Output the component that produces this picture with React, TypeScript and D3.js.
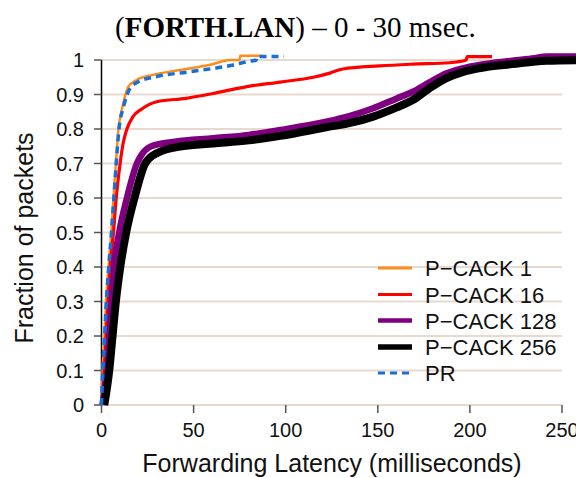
import React from "react";
import * as d3 from "d3";

type Pt = [number, number];

const seriesNames = ["P−CACK 1", "P−CACK 16", "P−CACK 128", "P−CACK 256", "PR"];
const seriesColors = ["#ff8c1a", "#ff0000", "#7f007f", "#000000", "#1a6fd6"];

const pcack1: Pt[] = [
  [0, 0], [0.6, 0.1], [1.6, 0.2], [2.5, 0.3], [3.8, 0.4], [5.3, 0.5], [6.5, 0.6], [7.8, 0.7],
  [9.2, 0.8], [11, 0.855], [12.5, 0.89], [14.6, 0.923], [19, 0.942], [28, 0.957],
  [42.7, 0.971], [59, 0.986], [70, 1.0], [75, 1.0], [75.3, 1.012], [87, 1.012],
];
const pcack16: Pt[] = [
  [0, 0], [1.5, 0.1], [2.5, 0.2], [3.5, 0.3], [4.7, 0.4], [6.5, 0.5], [8, 0.6], [10.1, 0.7],
  [11.8, 0.76], [13.8, 0.8], [17, 0.835], [21.9, 0.858], [30, 0.879], [46, 0.889],
  [60.7, 0.903], [79, 0.923], [97, 0.936], [115, 0.95], [124, 0.962], [131, 0.974],
  [151, 0.983], [169, 0.988], [189, 0.992], [198, 1.0], [198.5, 1.01], [212, 1.01],
];
const pcack128: Pt[] = [
  [0.5, 0], [3, 0.1], [4.3, 0.2], [5.5, 0.3], [6.8, 0.4], [9.6, 0.5], [13.8, 0.6], [19.2, 0.7],
  [22, 0.727], [27, 0.75], [40, 0.763], [60.6, 0.773], [80, 0.783], [97, 0.797], [122, 0.821],
  [135, 0.838], [147.5, 0.86], [160, 0.888], [169, 0.908], [178, 0.935], [187, 0.961],
  [196, 0.976], [205, 0.986], [223, 0.998], [235, 1.005], [241.5, 1.01], [265, 1.01],
];
const pcack256: Pt[] = [
  [1.5, 0], [4.2, 0.1], [6, 0.2], [7.8, 0.3], [10.2, 0.4], [13.4, 0.5], [17.9, 0.6],
  [23.7, 0.7], [30, 0.73], [43.6, 0.75], [60.7, 0.758], [80, 0.767], [97, 0.78], [122, 0.805],
  [135, 0.818], [147.5, 0.836], [160, 0.862], [169, 0.884], [178, 0.918], [187, 0.947],
  [196, 0.965], [205, 0.976], [223, 0.988], [241.5, 0.998], [265, 1.0],
];
const pr: Pt[] = [
  [0, 0], [0.7, 0.1], [1.7, 0.2], [2.6, 0.3], [3.9, 0.4], [5.4, 0.5], [6.7, 0.6], [8, 0.7],
  [9.5, 0.8], [12, 0.865], [15, 0.913], [20, 0.937], [30, 0.952], [48, 0.966], [70, 0.984],
  [80, 0.996], [84, 1.0], [84.3, 1.01], [99, 1.01],
];

const seriesData = [pcack1, pcack16, pcack128, pcack256, pr];
const xTicks = [0, 50, 100, 150, 200, 250];
const yTicks = [0, 0.1, 0.2, 0.3, 0.4, 0.5, 0.6, 0.7, 0.8, 0.9, 1];

const plotWidths = [2.5, 3.2, 6.5, 8, 3.5];
const legendWidths = [3, 3, 4.5, 5.5, 3];
const drawOrder = [0, 1, 2, 3, 4];

export default function App() {
  const W = 576, H = 478;
  const x = d3.scaleLinear().domain([0, 250]).range([101.5, 562]);
  const y = d3.scaleLinear().domain([0, 1]).range([405, 60]);
  const line = d3
    .line<Pt>()
    .x((d) => x(d[0]))
    .y((d) => y(d[1]))
    .curve(d3.curveMonotoneX);
  const sans = "'Liberation Sans', Arial, sans-serif";
  const legendY = [268, 294.5, 320.5, 347, 373];

  return (
    <svg width={W} height={H} style={{ position: "absolute", left: 0, top: 0 }}>
      <rect width={W} height={H} fill="#fff" />
      {yTicks.map((t) => (
        <line key={"g" + t} x1={x(0)} x2={x(250)} y1={y(t)} y2={y(t)} stroke="#e8d9cf" strokeWidth={2} />
      ))}
      <line x1={x(0)} x2={x(0)} y1={y(1)} y2={y(0)} stroke="#000" strokeWidth={1.5} />
      {yTicks.map((t) => (
        <g key={"yt" + t}>
          <line x1={94} x2={x(0)} y1={y(t)} y2={y(t)} stroke="#555" strokeWidth={1.5} />
          <text x={84} y={y(t) + 7} textAnchor="end" fontFamily={sans} fontSize={20} fill="#111">
            {d3.format("~g")(t)}
          </text>
        </g>
      ))}
      {xTicks.map((t) => (
        <g key={"xt" + t}>
          <line x1={x(t)} x2={x(t)} y1={y(0)} y2={y(0) + 8} stroke="#555" strokeWidth={1.5} />
          <text x={x(t)} y={437} textAnchor="middle" fontFamily={sans} fontSize={20} fill="#111">
            {t}
          </text>
        </g>
      ))}
      {drawOrder.map((i) => (
        <path
          key={"s" + i}
          d={line(seriesData[i]) || ""}
          fill="none"
          stroke={seriesColors[i]}
          strokeWidth={plotWidths[i]}
          strokeDasharray={i === 4 ? "7,5" : undefined}
          strokeLinejoin="round"
        />
      ))}
      {seriesNames.map((n, i) => (
        <g key={"l" + i}>
          <line
            x1={378}
            x2={412}
            y1={legendY[i]}
            y2={legendY[i]}
            stroke={seriesColors[i]}
            strokeWidth={legendWidths[i]}
            strokeDasharray={i === 4 ? "7,5" : undefined}
          />
          <text x={425} y={legendY[i] + 8} fontFamily={sans} fontSize={22} fill="#111">
            {n}
          </text>
        </g>
      ))}
      <text x={115} y={37} fontFamily="'Liberation Serif', 'Times New Roman', serif" fontSize={29} fill="#000">
        (<tspan fontWeight="bold">FORTH.LAN</tspan>) – 0 - 30 msec.
      </text>
      <text
        transform={`translate(33,${238}) rotate(-90)`}
        textAnchor="middle"
        fontFamily={sans}
        fontSize={25}
        fill="#111"
      >
        Fraction of packets
      </text>
      <text x={332} y={472} textAnchor="middle" fontFamily={sans} fontSize={25} fill="#111">
        Forwarding Latency (milliseconds)
      </text>
    </svg>
  );
}
